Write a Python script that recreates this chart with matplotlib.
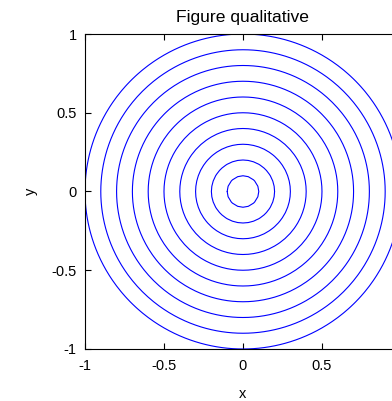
import numpy as np
import matplotlib
matplotlib.use("Agg")
import matplotlib.pyplot as plt

# contour levels (radius of each circle)
radii = [0.1, 0.2, 0.3, 0.4, 0.5, 0.6, 0.7, 0.8, 0.9, 1.0]
xticks = [-1, -0.5, 0, 0.5, 1]
yticks = [-1, -0.5, 0, 0.5, 1]
xtick_labels = ["-1", "-0.5", "0", "0.5", ""]
ytick_labels = ["-1", "-0.5", "0", "0.5", "1"]

plt.rcParams['font.family'] = ['Liberation Sans', 'DejaVu Sans']
plt.rcParams['font.size'] = 10.5

fig = plt.figure(figsize=(3.92, 4.01), dpi=100)
ax = fig.add_axes([0.2168, 0.1297, 0.8061, 0.7855])

# grid for the contour
g = np.linspace(-1, 1, 61)
X, Y = np.meshgrid(g, g)
Z = np.sqrt(X ** 2 + Y ** 2)
ax.contour(X, Y, Z, levels=radii, colors='#0000ff', linewidths=0.8)

ax.set_xlim(-1, 1)
ax.set_ylim(-1, 1)
ax.set_xticks(xticks)
ax.set_xticklabels(xtick_labels)
ax.set_yticks(yticks)
ax.set_yticklabels(ytick_labels)
ax.tick_params(direction='in', top=True, right=True, length=4, width=0.8)
ax.tick_params(axis='x', pad=7)
ax.tick_params(axis='y', pad=6)
for s in ax.spines.values():
    s.set_linewidth(0.8)

ax.set_xlabel('x', labelpad=10)
ax.set_ylabel('y', labelpad=10)
ax.set_title('Figure qualitative', pad=9)

fig.savefig('out.png', dpi=100)
